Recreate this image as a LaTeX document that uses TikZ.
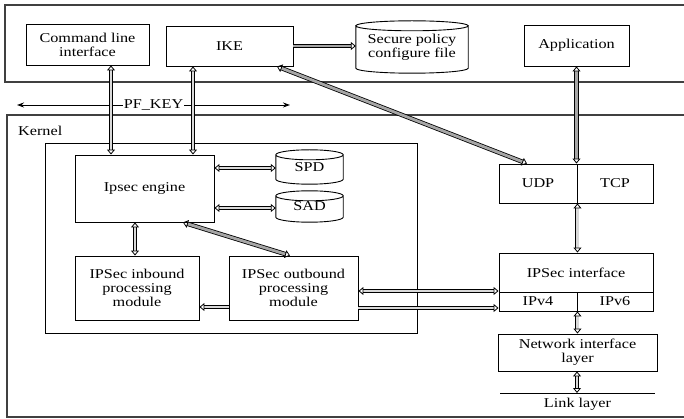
\documentclass[tikz,border=0pt]{standalone}
\usepackage{fontspec}
\setmainfont{Liberation Serif}[FakeStretch=1.2]
\usetikzlibrary{arrows.meta,calc}
\tikzset{
  txt/.style={font=\fontsize{13.5}{14}\selectfont, align=center, inner sep=1pt},
  box/.style={txt, draw, line width=0.9pt},
  cylt/.style={txt},
  outer/.style={draw=black!75, line width=1.5pt},
  inner/.style={draw, line width=0.9pt},
  dbl/.style={double=gray!30, double distance=2.4pt, line width=0.8pt},
  hat/.style={double=gray!70, double distance=2.8pt, line width=0.8pt},
  tip/.tip={Triangle[open, length=5pt, width=8pt]},
}
\newcommand\cylout[2]{%
  \draw[line width=0.9pt] let \p1=(#1.north west), \p2=(#1.south east), \n1={(\x2-\x1)/2} in
    (\x1,\y1-#2pt) -- (\x1,\y2+#2pt)
    arc[start angle=180, end angle=360, x radius=\n1, y radius=#2pt]
    -- (\x2,\y1-#2pt)
    (\x1+\n1,\y1-#2pt) ellipse[x radius=\n1, y radius=#2pt];}
\begin{document}
\begin{tikzpicture}[x=1pt, y=-1pt]
\useasboundingbox (0,0) rectangle (684,419);
\clip (0,0) rectangle (684,419);
% outer frames
\draw[outer] (700,5) -- (5,5) -- (5,82) -- (700,82);
\draw[outer] (700,115) -- (7,115) -- (7,417) -- (700,417);
\node[txt, anchor=west] (kern) at (17,131) {Kernel};
\draw[inner] (45,143) rectangle (417,333);
% user space
\node[box, minimum width=123pt, minimum height=41pt] (cli) at (87.5,44.5) {Command line\\interface};
\node[box, minimum width=127pt, minimum height=40pt] (ike) at (229.5,46) {IKE};
\node[cylt, minimum width=112pt, minimum height=52pt] (spcf) at (412,47) {Secure policy\\configure file};
\cylout{spcf}{5}
\node[box, minimum width=105pt, minimum height=41pt] (app) at (576.5,45.5) {Application};
% kernel
\node[box, minimum width=139pt, minimum height=67pt] (eng) at (144.5,188.5) {Ipsec engine};
\node[cylt, minimum width=67pt, minimum height=34pt] (spd) at (309.5,167) {SPD};
\cylout{spd}{5}
\node[cylt, minimum width=67pt, minimum height=31pt] (sad) at (309.5,206.5) {SAD};
\cylout{sad}{5}
\node[box, minimum width=124pt, minimum height=64pt] (inb) at (137,288) {IPSec inbound\\processing\\module};
\node[box, minimum width=129pt, minimum height=64pt] (outb) at (293.5,288) {IPSec outbound\\processing\\module};
\node[box, minimum width=78pt, minimum height=39pt] (udp) at (538,183.5) {UDP};
\node[box, minimum width=76pt, minimum height=39pt] (tcp) at (615,183.5) {TCP};
\node[box, minimum width=154pt, minimum height=39pt] (ipsi) at (576,272.5) {IPSec interface};
\node[box, minimum width=78pt, minimum height=19pt] (ipv4) at (538,301.5) {IPv4};
\node[box, minimum width=76pt, minimum height=19pt] (ipv6) at (615,301.5) {IPv6};
\node[box, minimum width=159pt, minimum height=37pt] (nil) at (577.5,352.5) {Network interface\\layer};
\coordinate (ll1) at (500,393);
\coordinate (ll2) at (655,393);
\draw[line width=0.9pt] (ll1) -- (ll2);
\node[txt] (ll) at (577.5,404) {Link layer};
% PF_KEY
\coordinate (pf1) at (17,105);
\coordinate (pf2) at (290,105);
\draw[line width=0.9pt, {Stealth[length=7pt,width=5pt]}-{Stealth[length=7pt,width=5pt]}] (pf1) -- (pf2)
  node[midway, fill=white, txt, inner sep=1pt, xshift=0pt] (pfk) {PF\_KEY};
% connectors
\draw[dbl, tip-tip] ([xshift=23.5pt]cli.south) -- ([xshift=23.5pt]cli.south |- eng.north);
\draw[dbl, tip-tip] ([xshift=-36.5pt]ike.south) -- ([xshift=-36.5pt]ike.south |- eng.north);
\draw[hat, -tip] (ike.east) -- (spcf.west |- ike.east);
\draw[hat, tip-tip] (app.south) -- (app.south |- udp.north);
\draw[hat, tip-tip] ([xshift=47.5pt]ike.south) -- ([xshift=-11pt]udp.north);
\draw[dbl, tip-tip] ([yshift=-19.5pt]eng.east) -- ([yshift=-19.5pt]eng.east -| spd.west);
\draw[dbl, tip-tip] ([yshift=20.5pt]eng.east) -- ([yshift=20.5pt]eng.east -| sad.west);
\draw[dbl, tip-tip] ([xshift=-9.5pt]eng.south) -- ([xshift=-9.5pt]eng.south |- inb.north);
\draw[hat, tip-tip] ([xshift=38.5pt]eng.south) -- ([xshift=-3.5pt]outb.north);
\draw[dbl, -tip] ([yshift=-19pt]outb.west) -- ([yshift=-19pt]outb.west -| inb.east);
\draw[dbl, -tip] ([yshift=-20pt]outb.east) -- ([yshift=-20pt]outb.east -| ipsi.west);
\draw[dbl, tip-tip] ([yshift=-3pt]outb.east) -- ([yshift=-3pt]outb.east -| ipsi.west);
\draw[dbl, tip-tip] (udp.south east) -- (ipsi.north -| udp.south east);
\draw[dbl, tip-tip] (ipv4.south east) -- (nil.north -| ipv4.south east);
\draw[dbl, tip-tip] ([xshift=-0.5pt]nil.south) -- ([xshift=-0.5pt]nil.south |- ll1);
\end{tikzpicture}
\end{document}
